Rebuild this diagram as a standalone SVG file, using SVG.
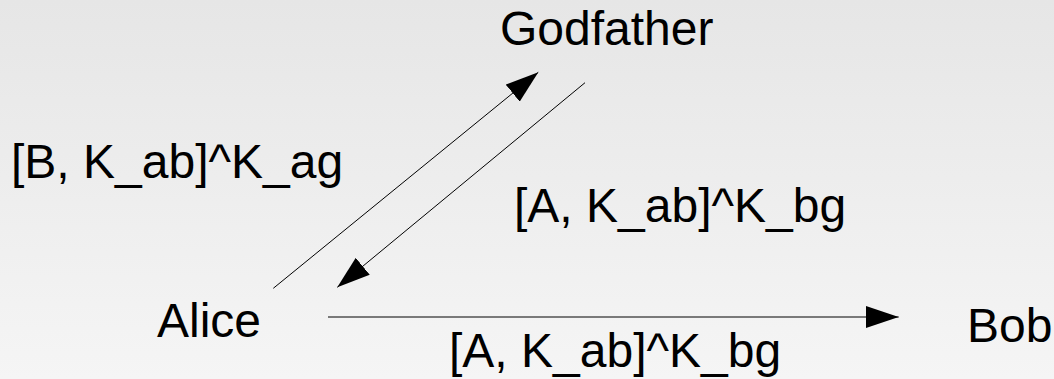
<svg xmlns="http://www.w3.org/2000/svg" width="1054" height="379" viewBox="0 0 1054 379">
  <defs>
    <linearGradient id="bg" x1="0" y1="0" x2="0" y2="1">
      <stop offset="0" stop-color="#e6e6e6"/>
      <stop offset="1" stop-color="#f5f5f5"/>
    </linearGradient>
    <marker id="arrow" markerUnits="userSpaceOnUse" markerWidth="33" markerHeight="22" viewBox="0 0 33 22" refX="33" refY="11" orient="auto">
      <path d="M0,0 L33,11 L0,22 Z" fill="#000"/>
    </marker>
    <style>
      .lbl { font-family: "Liberation Sans", Arial, sans-serif; font-size: 48px; fill: #000; }
      .msg { stroke: #000; stroke-width: 1; fill: none; marker-end: url(#arrow); }
    </style>
  </defs>

  <rect width="1054" height="379" fill="url(#bg)"/>

  <g id="connectors">
    <line class="msg" x1="273.3" y1="288.3" x2="538.3" y2="72.3"/>
    <line class="msg" x1="585" y1="82.7" x2="337.3" y2="287.3"/>
    <line class="msg" x1="328" y1="317" x2="898.7" y2="317"/>
  </g>

  <g id="node-godfather">
    <text class="lbl" x="500" y="45">Godfather</text>
  </g>
  <g id="node-alice">
    <text class="lbl" x="157" y="337">Alice</text>
  </g>
  <g id="node-bob">
    <text class="lbl" x="967" y="342">Bob</text>
  </g>

  <g id="labels">
    <text class="lbl" x="11" y="178">[B, K_ab]^K_ag</text>
    <text class="lbl" x="514" y="222">[A, K_ab]^K_bg</text>
    <text class="lbl" x="449" y="367">[A, K_ab]^K_bg</text>
  </g>
</svg>
